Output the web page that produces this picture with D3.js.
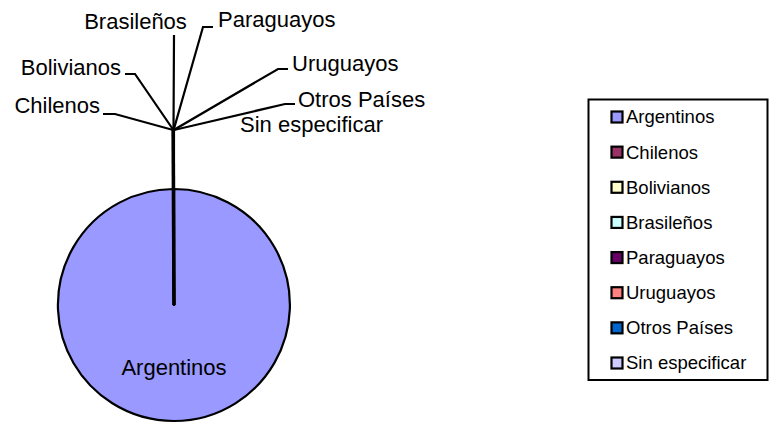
<!DOCTYPE html>
<html><head><meta charset="utf-8">
<script src="https://cdn.jsdelivr.net/npm/d3@7/dist/d3.min.js"></script>
<style>body{margin:0;background:#fff}svg{display:block;font-family:"Liberation Sans",Arial,sans-serif}</style>
</head><body>
<svg id="c" width="769" height="424"></svg>
<script>
// Data
const categories = ["Argentinos","Chilenos","Bolivianos","Brasileños","Paraguayos","Uruguayos","Otros Países","Sin especificar"];
const values = [99.92, 0.02, 0.01, 0.01, 0.015, 0.01, 0.01, 0.005];
const colors = ["#9999FF","#993366","#FFFFCC","#CCFFFF","#660066","#FF8080","#0066CC","#CCCCFF"];

// Label layout (elbow & text placement for small slices), not data
const labelLayout = {
  "Chilenos":        {elbow:[115,114], end:[103,114], tx:100, ty:113, anchor:"end"},
  "Bolivianos":      {elbow:[135,74],  end:[125,74],  tx:121, ty:75,  anchor:"end"},
  "Brasileños":      {elbow:[174,35],  end:null,      tx:135.5, ty:29, anchor:"middle"},
  "Paraguayos":      {elbow:[203,27],  end:[213,27],  tx:218, ty:27,  anchor:"start"},
  "Uruguayos":       {elbow:[278,69],  end:[288,69],  tx:292, ty:71,  anchor:"start"},
  "Otros Países":    {elbow:[285,104], end:[295,104], tx:298, ty:107, anchor:"start"},
  "Sin especificar": {elbow:null,      end:null,      tx:240, ty:132, anchor:"start"}
};

const svg = d3.select("#c");
const cx = 174, cy = 305, R = 116, ext = 59;

const data = categories.map((c,i)=>({cat:c, value:values[i], color:colors[i]}));
const pie = d3.pie().sort(null).value(d=>d.value);
const arcs = pie(data);
const arc = d3.arc().innerRadius(0).outerRadius(R);

const g = svg.append("g").attr("transform",`translate(${cx},${cy})`);
g.selectAll("path.slice").data(arcs).join("path")
  .attr("class","slice")
  .attr("d",arc)
  .attr("fill",d=>d.data.color)
  .attr("stroke","#000").attr("stroke-width",2.2).attr("stroke-linejoin","round");

// Argentinos label inside
svg.append("text")
  .attr("x",cx).attr("y",375).attr("text-anchor","middle")
  .attr("font-size",22).attr("fill","#000").text(categories[0]);

// Leader lines for small slices
const pt = (a,r)=>[cx+r*Math.sin(a), cy-r*Math.cos(a)];
arcs.slice(1).forEach(d=>{
  const L = labelLayout[d.data.cat];
  const a = (d.startAngle+d.endAngle)/2;
  const p0 = pt(a,R), p1 = pt(a,R+ext);
  const pts = [p0,p1];
  if (L.elbow) pts.push(L.elbow);
  if (L.end) pts.push(L.end);
  svg.append("path").attr("d",d3.line()(pts))
    .attr("fill","none").attr("stroke","#000").attr("stroke-width",2.2);
  svg.append("text").attr("x",L.tx).attr("y",L.ty).attr("text-anchor",L.anchor)
    .attr("font-size",22).attr("fill","#000").text(d.data.cat);
});
// central line thickness (overlapping slice edges)
svg.append("path").attr("d",d3.line()([[cx,cy],pt(arcs[1].startAngle,R+ext)]))
  .attr("stroke","#000").attr("stroke-width",3.5);

// Legend
const lg = svg.append("g");
lg.append("rect").attr("x",588.5).attr("y",99.5).attr("width",179).attr("height",280.5)
  .attr("fill","#fff").attr("stroke","#000").attr("stroke-width",2);
const ly = d3.scalePoint().domain(categories).range([117,363]);
const items = lg.selectAll("g.item").data(data).join("g").attr("class","item")
  .attr("transform",d=>`translate(0,${ly(d.cat)})`);
items.append("rect").attr("x",611.5).attr("y",-5.5).attr("width",11).attr("height",11)
  .attr("fill",d=>d.color).attr("stroke","#000").attr("stroke-width",2.2);
items.append("text").attr("x",626).attr("y",0).attr("dy","0.35em")
  .attr("font-size",18.5).attr("fill","#000").text(d=>d.cat);
</script>
</body></html>
